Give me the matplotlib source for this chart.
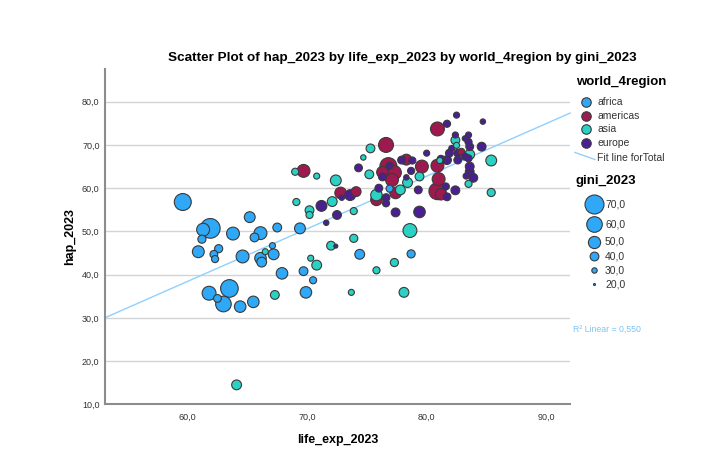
import numpy as np
import pandas as pd
import matplotlib
matplotlib.use("Agg")
import matplotlib.pyplot as plt
from matplotlib.ticker import FuncFormatter

plt.rcParams['font.family'] = ['Liberation Sans', 'DejaVu Sans']

# --- data: (life_exp_2023, hap_2023, gini_2023) per region ---
africa_x = [59.6, 65.2, 67.5, 69.4, 61.9, 61.3, 63.8, 66.1, 65.6, 61.2, 67.1, 60.9, 62.6, 62.2, 62.3, 64.6,
            66.1, 66.2, 67.2, 67.9, 69.7, 70.5, 69.9, 61.8, 62.5, 63.5, 63.0, 64.4, 65.5, 74.4, 78.7, 76.9]
africa_y = [56.8, 53.3, 50.9, 50.7, 50.7, 50.4, 49.5, 49.6, 48.6, 48.2, 46.7, 45.3, 46.0, 44.7, 43.6, 44.2,
            43.8, 42.9, 44.7, 40.3, 40.8, 38.7, 35.9, 35.7, 34.5, 36.8, 33.2, 32.6, 33.7, 44.7, 44.8, 59.9]
africa_g = [64, 46, 40, 46, 72, 52, 52, 52, 40, 38, 32, 49, 38, 37, 35, 52,
            48, 43, 46, 48, 40, 35, 48, 55, 37, 66, 60, 48, 48, 43, 38, 35]

americas_x = [69.7, 72.8, 74.1, 76.6, 76.8, 76.3, 77.3, 77.1, 77.4, 75.8, 78.3, 79.6, 80.9, 80.9, 81.0,
              80.9, 81.2, 82.9]
americas_y = [64.0, 58.9, 59.2, 70.0, 65.1, 63.7, 63.6, 61.9, 58.9, 57.3, 66.6, 65.0, 73.7, 65.2, 62.1,
              59.3, 58.6, 68.4]
americas_g = [52, 48, 43, 58, 64, 48, 55, 52, 48, 48, 46, 52, 55, 52, 52, 64, 48, 35]

asia_x = [64.1, 67.3, 66.5, 70.3, 70.8, 72.0, 73.7, 78.1, 75.8, 77.3, 73.9, 78.6, 73.9, 69.1, 70.2, 70.2,
          72.1, 69.0, 70.8, 72.4, 74.7, 75.3, 75.2, 75.8, 77.8, 78.4, 79.4, 82.4, 82.5, 83.6, 83.5, 85.4,
          85.4, 81.1]
asia_y = [14.5, 35.3, 45.3, 43.8, 42.2, 46.7, 35.9, 35.9, 41.0, 42.8, 48.4, 50.2, 54.7, 56.8, 54.9, 53.8,
          56.9, 63.8, 62.8, 61.8, 67.1, 69.2, 63.2, 58.4, 59.6, 61.3, 62.7, 71.1, 69.9, 67.8, 61.0, 66.4,
          59.0, 66.4]
asia_g = [43, 40, 32, 32, 43, 40, 32, 43, 35, 38, 38, 55, 35, 35, 40, 35,
          43, 35, 32, 46, 30, 40, 40, 48, 43, 43, 40, 40, 32, 43, 35, 46,
          38, 32]

europe_x = [72.4, 71.6, 72.5, 71.2, 72.9, 73.6, 74.3, 76.9, 76.3, 76.0, 76.6, 76.6, 77.4, 77.9, 78.8, 78.7,
            78.3, 79.3, 79.4, 80.0, 81.7, 82.5, 84.7, 82.4, 83.5, 83.2, 83.5, 83.6, 84.6, 82.1, 81.9, 82.6,
            83.2, 81.7, 82.6, 83.5, 81.2, 83.6, 83.6, 83.3, 83.9, 81.6, 81.7, 82.4]
europe_y = [46.6, 52.0, 53.8, 55.9, 57.8, 58.4, 64.7, 65.2, 62.6, 60.0, 57.8, 56.5, 54.4, 66.5, 66.4, 64.0,
            62.5, 59.6, 54.5, 68.1, 74.9, 76.9, 75.4, 72.3, 72.3, 71.5, 70.7, 69.6, 69.6, 69.2, 68.1, 68.1,
            67.3, 66.5, 66.5, 66.9, 66.7, 65.0, 63.8, 62.8, 62.4, 60.4, 58.0, 59.5]
europe_g = [26, 30, 40, 46, 30, 46, 37, 35, 37, 37, 37, 35, 40, 37, 35, 35,
            30, 37, 48, 32, 35, 32, 30, 32, 32, 30, 35, 37, 40, 32, 37, 37,
            35, 40, 37, 35, 37, 40, 40, 32, 40, 35, 37, 40]

regions = ['africa', 'americas', 'asia', 'europe']
colors = {'africa': '#2EA8F7', 'americas': '#9E1A4E', 'asia': '#2BD1C4', 'europe': '#4A1F92'}
size_levels = [70, 60, 50, 40, 30, 20]
r2_text = 'R² Linear = 0,550'

df = pd.concat([
    pd.DataFrame({'x': africa_x, 'y': africa_y, 'g': africa_g, 'region': 'africa'}),
    pd.DataFrame({'x': americas_x, 'y': americas_y, 'g': americas_g, 'region': 'americas'}),
    pd.DataFrame({'x': asia_x, 'y': asia_y, 'g': asia_g, 'region': 'asia'}),
    pd.DataFrame({'x': europe_x, 'y': europe_y, 'g': europe_g, 'region': 'europe'}),
], ignore_index=True)


def gini_size(g):
    d_px = 2 + 0.34 * (np.asarray(g, dtype=float) - 20)
    return (d_px * 0.72) ** 2


fig = plt.figure(figsize=(7.1, 4.73), dpi=100)
ax = fig.add_axes([0.148, 0.1452, 0.655, 0.7083])

ax.set_xlim(53.1, 92.0)
ax.set_ylim(10, 87.5)
ax.set_yticks(np.arange(10, 81, 10))
ax.set_xticks([60, 70, 80, 90])
fmt = FuncFormatter(lambda v, p: f"{v:.1f}".replace('.', ','))
ax.xaxis.set_major_formatter(fmt)
ax.yaxis.set_major_formatter(fmt)
ax.tick_params(axis='both', length=0, labelsize=6.5, labelcolor='#333333')
ax.tick_params(axis='y', pad=4)
ax.tick_params(axis='x', pad=6)
ax.grid(axis='y', color='#d4d4d4', linewidth=1)
ax.set_axisbelow(True)
for s in ['top', 'right']:
    ax.spines[s].set_visible(False)
for s in ['left', 'bottom']:
    ax.spines[s].set_color('#8c8c8c')
    ax.spines[s].set_linewidth(1.5)

# fit line over whole x range
slope, intercept = np.polyfit(df['x'], df['y'], 1)
xs = np.array(ax.get_xlim())
ax.plot(xs, intercept + slope * xs, color='#8FD0FF', linewidth=1, zorder=1, clip_on=False)

# bubbles, big ones first so small ones stay visible
order = df.sort_values('g', ascending=False)
ax.scatter(order['x'], order['y'], s=gini_size(order['g']),
           c=[colors[r] for r in order['region']],
           edgecolors='#3a3a3a', linewidths=0.8, zorder=3)

ax.set_xlabel('life_exp_2023', fontsize=9, fontweight='bold', labelpad=9)
ax.set_ylabel('hap_2023', fontsize=9, fontweight='bold', labelpad=4)
fig.text(402 / 710, 1 - 58 / 473, 'Scatter Plot of hap_2023 by life_exp_2023 by world_4region by gini_2023',
         ha='center', va='center', fontsize=9.7, fontweight='bold')

# legends, placed in pixel space
lg = fig.add_axes([0, 0, 1, 1], facecolor='none')
lg.set_xlim(0, 710)
lg.set_ylim(473, 0)
lg.axis('off')

lg.text(576, 82, 'world_4region', fontsize=9.5, fontweight='bold', va='center', ha='left')
for i, r in enumerate(regions):
    yy = 102 + i * 13.7
    lg.scatter([586], [yy], s=gini_size(42), c=colors[r], edgecolors='#3a3a3a', linewidths=0.8)
    lg.text(597, yy, r, fontsize=7.5, va='center', ha='left', color='#333333')
lg.plot([575, 595], [152.5, 159.5], color='#8FD0FF', linewidth=1)
lg.text(597, 157.5, 'Fit line forTotal', fontsize=7.5, va='center', ha='left', color='#333333')

lg.text(576, 181, 'gini_2023', fontsize=9.5, fontweight='bold', va='center', ha='left')
size_y = [204, 224, 241.5, 256, 270, 284]
for g, yy in zip(size_levels, size_y):
    lg.scatter([594], [yy], s=gini_size(g), c=colors['africa'], edgecolors='#3a3a3a', linewidths=0.8)
    lg.text(605, yy, f"{g:.1f}".replace('.', ','), fontsize=7.5, va='center', ha='left', color='#333333')

lg.text(573, 329, r2_text, fontsize=6.3, va='center', ha='left', color='#7CC4F5')

fig.savefig('out.png', dpi=100)
